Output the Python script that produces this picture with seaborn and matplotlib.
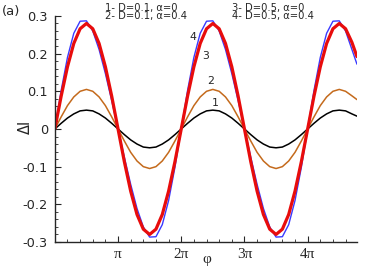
import numpy as np
import pandas as pd
import seaborn as sns
import matplotlib
matplotlib.use("Agg")
import matplotlib.pyplot as plt
from matplotlib.ticker import MultipleLocator, FixedLocator, FuncFormatter

# phase in units of pi (step 0.1 pi, last point at the right edge)
phi_pi = list(np.round(np.arange(0, 4.75, 0.1), 2)) + [4.78]

# 1- D=0.1, alpha=0
curve1 = [0, .015, .029, .040, .048, .050, .048, .040, .029, .015,
          0, -.015, -.029, -.040, -.048, -.050, -.048, -.040, -.029, -.015,
          0, .015, .029, .040, .048, .050, .048, .040, .029, .015,
          0, -.015, -.029, -.040, -.048, -.050, -.048, -.040, -.029, -.015,
          0, .015, .029, .040, .048, .050, .048, .040, .034]
# 2- D=0.1, alpha=0.4
curve2 = [0, .032, .062, .085, .100, .105, .100, .085, .062, .032,
          0, -.032, -.062, -.085, -.100, -.105, -.100, -.085, -.062, -.032,
          0, .032, .062, .085, .100, .105, .100, .085, .062, .032,
          0, -.032, -.062, -.085, -.100, -.105, -.100, -.085, -.062, -.032,
          0, .032, .062, .085, .100, .105, .100, .088, .078]
# 3- D=0.5, alpha=0
curve3 = [0, .087, .165, .227, .266, .280, .266, .227, .165, .087,
          0, -.087, -.165, -.227, -.266, -.280, -.266, -.227, -.165, -.087,
          0, .087, .165, .227, .266, .280, .266, .227, .165, .087,
          0, -.087, -.165, -.227, -.266, -.280, -.266, -.227, -.165, -.087,
          0, .087, .165, .227, .266, .280, .266, .230, .192]
# 4- D=0.5, alpha=0.4
curve4 = [0, .102, .190, .254, .286, .287, .260, .211, .147, .075,
          0, -.075, -.147, -.211, -.260, -.287, -.286, -.254, -.190, -.102,
          0, .102, .190, .254, .286, .287, .260, .211, .147, .075,
          0, -.075, -.147, -.211, -.260, -.287, -.286, -.254, -.190, -.102,
          0, .102, .190, .254, .286, .287, .260, .211, .172]

legend_lines = ["1- D=0.1, \u03b1=0", "2- D=0.1, \u03b1=0.4",
                "3- D=0.5, \u03b1=0", "4- D=0.5, \u03b1=0.4"]

sns.set_style("ticks")
plt.rcParams['font.family'] = ['DejaVu Sans']

phi = np.array(phi_pi) * np.pi
df = pd.DataFrame({'phi': phi, 'c1': curve1, 'c2': curve2, 'c3': curve3, 'c4': curve4})

fig = plt.figure(figsize=(3.68, 2.73), dpi=100)
ax = fig.add_axes([0.149, 0.1136, 0.821, 0.828])

sns.lineplot(data=df, x='phi', y='c1', ax=ax, color='black', lw=1.1, sort=False)
sns.lineplot(data=df, x='phi', y='c2', ax=ax, color='#c46a1c', lw=1.1, sort=False)
sns.lineplot(data=df, x='phi', y='c4', ax=ax, color='#3a3aff', lw=1.0, sort=False)
sns.lineplot(data=df, x='phi', y='c3', ax=ax, color='#e80c0c', lw=2.3, sort=False)

ax.set_xlim(0, 4.78 * np.pi)
ax.set_ylim(-0.3, 0.3)
sns.despine(ax=ax)

ax.xaxis.set_major_locator(FixedLocator([np.pi, 2 * np.pi, 3 * np.pi, 4 * np.pi]))
ax.set_xticklabels(["\u03c0", "2\u03c0", "3\u03c0", "4\u03c0"], fontfamily='Liberation Serif', fontsize=11)
ax.xaxis.set_minor_locator(MultipleLocator(np.pi / 5))
ax.yaxis.set_major_locator(MultipleLocator(0.1))
ax.yaxis.set_minor_locator(MultipleLocator(0.02))
ax.yaxis.set_major_formatter(FuncFormatter(lambda v, p: "0" if abs(v) < 1e-9 else f"{v:.1f}"))
ax.tick_params(which='major', direction='in', length=4, width=0.8, pad=4)
ax.tick_params(which='minor', direction='in', length=2, width=0.6)
ax.tick_params(axis='y', labelsize=9.3, pad=5)
for s in ax.spines.values():
    s.set_linewidth(1.0)

ax.set_xlabel("")
ax.set_ylabel("")
fig.text(207 / 368, 1 - 260 / 273, "\u03c6", fontfamily='Liberation Serif', fontsize=11, ha='center', va='center')
fig.text(25 / 368, 1 - 127 / 273, "\u0394I", fontsize=10.5, rotation=90, ha='center', va='center')
fig.text(11.5 / 368, 1 - 11 / 273, "(a)", fontsize=9.5, ha='center', va='center')

# two-line legend blocks at the top
leg_font = dict(fontsize=7.2, ha='left', va='top', linespacing=0.8)
fig.text(105 / 368, 1 - 2.5 / 273, legend_lines[0] + "\n" + legend_lines[1], **leg_font)
fig.text(232 / 368, 1 - 2.5 / 273, legend_lines[2] + "\n" + legend_lines[3], **leg_font)

# curve numbers
for lab, xp, yp in [("4", 2.187, 0.245), ("3", 2.388, 0.194), ("2", 2.466, 0.128), ("1", 2.530, 0.068)]:
    ax.text(xp * np.pi, yp, lab, fontsize=7.8, ha='center', va='center')

fig.savefig("out.png", dpi=100)
